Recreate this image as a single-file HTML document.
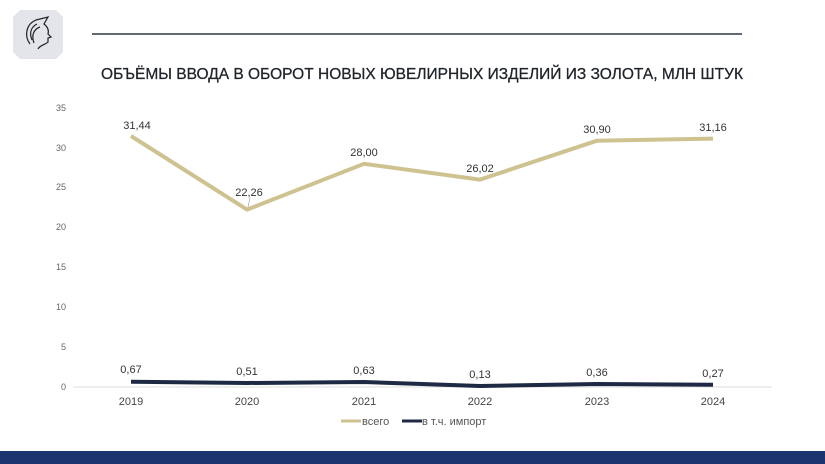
<!DOCTYPE html>
<html><head><meta charset="utf-8"><style>
html,body{margin:0;padding:0;background:#fff;}
svg{display:block;font-family:"Liberation Sans",sans-serif;}
</style></head><body>
<svg width="825" height="464" viewBox="0 0 825 464">
<rect width="825" height="464" fill="#fff"/>
<polygon points="20,10 56,10 63,17 63,52 56,59 20,59 13,52 13,17" fill="#e3e5ea"/>
<g fill="none" stroke="#222" stroke-width="1.2">
<path d="M30,44 C24,36 26,24 36,20 L48,17 L44,24 C48,27 49,31 48,34 L51,37 L48,38 L48,42 C45,45 40,45 38,49"/>
<path d="M32,40 C29,33 31,27 37,24 M34,43 C31,35 34,29 40,27"/>
</g>
<line x1="92" y1="34" x2="742" y2="34" stroke="#4a5460" stroke-width="1.8"/>
<text x="101" y="79" font-size="16" fill="#1f242b" stroke="#1f242b" stroke-width="0.3" textLength="642" lengthAdjust="spacingAndGlyphs">ОБЪЁМЫ ВВОДА В ОБОРОТ НОВЫХ ЮВЕЛИРНЫХ ИЗДЕЛИЙ ИЗ ЗОЛОТА, МЛН ШТУК</text>
<g font-size="9" fill="#666" text-anchor="end">
<text x="66" y="390">0</text><text x="66" y="350">5</text><text x="66" y="310">10</text>
<text x="66" y="270">15</text><text x="66" y="230">20</text><text x="66" y="190">25</text>
<text x="66" y="151">30</text><text x="66" y="111">35</text>
</g>
<line x1="73" y1="387" x2="772" y2="387" stroke="#ddd" stroke-width="1"/>
<g font-size="11" fill="#444" text-anchor="middle">
<text x="131" y="405">2019</text><text x="247" y="405">2020</text><text x="364" y="405">2021</text>
<text x="480" y="405">2022</text><text x="597" y="405">2023</text><text x="713" y="405">2024</text>
</g>
<polyline points="131,136 247,209.6 364,163.8 480,179.6 597,140.7 713,138.6" fill="none" stroke="#cdc290" stroke-width="4" stroke-linejoin="round"/>
<polyline points="131,381.7 247,383 364,382 480,386 597,384 713,384.8" fill="none" stroke="#1e2a44" stroke-width="4" stroke-linejoin="round"/>
<line x1="250" y1="198" x2="248" y2="207" stroke="#999" stroke-width="0.6"/>
<g font-size="11" fill="#333" text-anchor="middle">
<text x="137" y="129">31,44</text><text x="249" y="196">22,26</text><text x="364" y="156">28,00</text>
<text x="480" y="172">26,02</text><text x="597" y="133">30,90</text><text x="713" y="131">31,16</text>
<text x="131" y="373">0,67</text><text x="247" y="375">0,51</text><text x="364" y="374">0,63</text>
<text x="480" y="378">0,13</text><text x="597" y="376">0,36</text><text x="713" y="377">0,27</text>
</g>
<line x1="341" y1="421" x2="361" y2="421" stroke="#cdc290" stroke-width="3"/>
<text x="362" y="425" font-size="11" fill="#555">всего</text>
<line x1="402" y1="421" x2="422" y2="421" stroke="#1e2a44" stroke-width="3"/>
<text x="422" y="425" font-size="11" fill="#555">в т.ч. импорт</text>
<rect x="0" y="451" width="825" height="13" fill="#1a3470"/>
</svg>
</body></html>
